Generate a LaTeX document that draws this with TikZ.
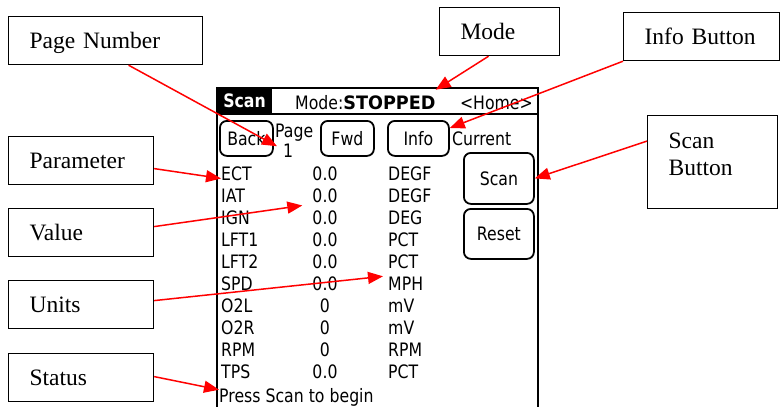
\documentclass[tikz,border=0pt]{standalone}
\usepackage{fontspec}
\usetikzlibrary{arrows.meta,positioning}
\newfontfamily\lblfont{Liberation Serif}
\newfontfamily\palmfont[FakeStretch=0.85]{DejaVu Sans}

\begin{document}
\begin{tikzpicture}[x=1pt,y=-1pt]
		\tikzstyle {callout} = [draw, line width=1.2pt, anchor=north west, inner xsep=21pt, inner ysep=0pt, minimum height=48pt, align=left, text height=18pt, text depth=3pt, font=\lblfont\fontsize{23.5}{27}\selectfont]
		\tikzstyle {pointer} = [red, line width=1.5pt, -{Triangle[length=15pt,width=12pt]}]
		\tikzstyle {palm} = [inner sep=0pt, font=\palmfont\fontsize{18.5}{22}\selectfont]
		\tikzstyle {palm button} = [palm, draw, line width=1.8pt, rounded corners=7pt, anchor=north west]

		\useasboundingbox (0,0) rectangle (780,407);

		\draw[line width=2.5pt] (217,412) -- (217,88) -- (538,88) -- (538,412);
		\fill (217,88) rectangle (272,113);
		\draw[line width=2.5pt] (217,114) -- (538,114);

		\node[palm, text=white] (title) at (244.5,101) {\bfseries Scan};
		\node[palm, anchor=base west] (mode) at (295,109) {Mode:\scalebox{1.12}[1]{\bfseries STOPPED}};
		\node[palm, anchor=base east] (home) at (533,109) {<Home>};

		\node[palm button, minimum width=53pt, minimum height=35pt] (back) at (219,120) {Back};
		\node[palm button, minimum width=53pt, minimum height=35pt] (fwd) at (320,120) {Fwd};
		\node[palm button, minimum width=61pt, minimum height=35pt] (info) at (387,120) {Info};
		\node[palm button, minimum width=70pt, minimum height=51pt] (scan) at (463,152) {Scan};
		\node[palm button, minimum width=70pt, minimum height=50pt] (reset) at (463,208) {Reset};

		\node[palm, anchor=base west] (page) at (275,137) {Page};
		\node[palm, anchor=base west] (pagenum) at (283,157) {1};
		\node[palm, anchor=base west] (current) at (452,145) {Current};

		\foreach \nm/\vl/\un [count=\i] in {ECT/0.0/DEGF, IAT/0.0/DEGF, IGN/0.0/DEG, LFT1/0.0/PCT, LFT2/0.0/PCT, SPD/0.0/MPH, O2L/0/mV, O2R/0/mV, RPM/0/RPM, TPS/0.0/PCT} {
			\node[palm, anchor=base west] (p\i) at (221, 158+22*\i) {\nm};
			\node[palm, anchor=base] (v\i) at (325, 158+22*\i) {\vl};
			\node[palm, anchor=base west] (u\i) at (388, 158+22*\i) {\un};
		}

		\node[palm, anchor=base west] (status) at (219,402) {Press Scan to begin};

		\node[callout, text width=152pt] (pgnum) at (8,16) {Page Number};
		\node[callout, text width=103pt] (param) at (8,136) {Parameter};
		\node[callout, text width=103pt] (value) at (8,208) {Value};
		\node[callout, text width=103pt] (units) at (8,280) {Units};
		\node[callout, text width=103pt] (stat) at (8,353) {Status};
		\node[callout, text width=78pt] (modelbl) at (439,7) {Mode};
		\node[callout, text width=114pt] (infolbl) at (623,12) {Info Button};
		\node[callout, text width=88pt, minimum height=93pt, text depth=45pt] (scanlbl) at (647,115) {Scan\\Button};

		\draw[pointer] ([xshift=23pt]pgnum.south) -- ([xshift=-6pt,yshift=4pt]pagenum.west);
		\draw[pointer] ([xshift=-11pt]modelbl.south) -- ([yshift=5pt]mode.north east);
		\draw[pointer] (infolbl.south west) -- ([yshift=-8pt]info.north east);
		\draw[pointer] ([yshift=21pt]scanlbl.west) -- (scan.east);
		\draw[pointer] ([yshift=-8pt]param.east) -- ([yshift=2pt]p1.south west);
		\draw[pointer] ([yshift=6pt]value.east) -- ([xshift=-10pt,yshift=-3pt]v2.south west);
		\draw[pointer] ([yshift=4pt]units.east) -- ([xshift=-5pt]u6.north west);
		\draw[pointer] ([yshift=1pt]stat.east) -- ([yshift=-2pt]status.north west);
	\end{tikzpicture}
\end{document}
